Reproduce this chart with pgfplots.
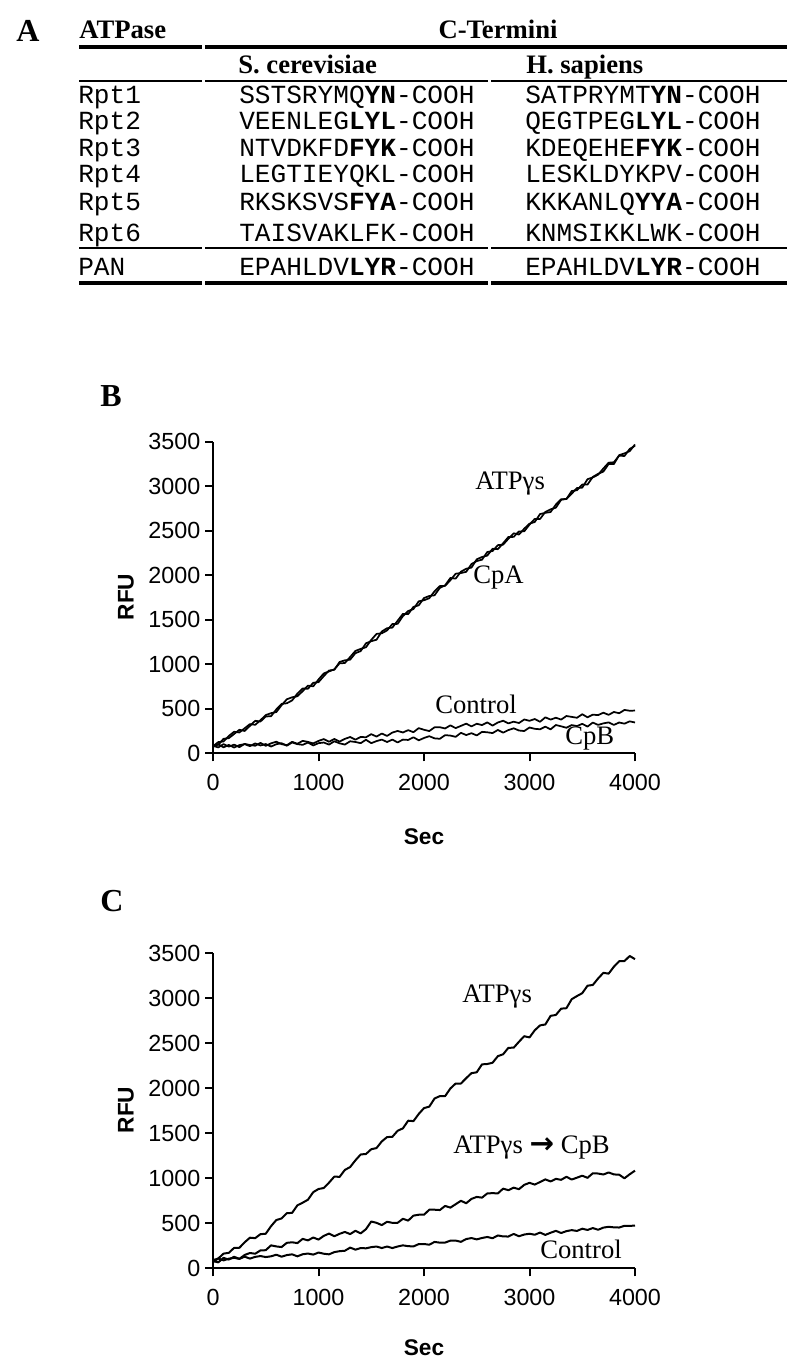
\documentclass[border=0pt]{standalone}
\usepackage{fontspec}
\setmainfont{Liberation Serif}
\setsansfont{Liberation Sans}
\setmonofont{Liberation Mono}
\newfontfamily\djv{DejaVu Sans}
\usepackage{pgfplots}
\usepackage{pgfplotstable}
\pgfplotsset{compat=1.18}

% panel B: sec, ATPgs, CpA, Control, CpB
\pgfplotstableread{
sec atp cpa ctrl cpb
0 80 90 85 75
50 127 97 67 102
100 134 164 104 68
150 196 171 76 95
200 243 218 98 66
250 235 265 70 93
300 282 252 107 104
350 329 309 94 81
400 321 366 86 112
450 373 358 118 89
500 430 415 85 105
550 452 417 113 77
600 464 494 131 103
650 541 556 104 115
700 608 563 92 86
750 630 595 130 123
800 642 672 108 104
850 699 729 141 96
900 761 726 129 122
950 753 793 112 89
1000 830 800 140 115
1050 898 868 161 122
1100 921 931 131 99
1150 944 939 162 136
1200 1012 1027 133 113
1250 1015 1045 163 99
1300 1083 1053 184 136
1350 1151 1126 154 128
1400 1174 1149 185 115
1450 1192 1237 181 153
1500 1275 1260 216 115
1550 1342 1277 189 138
1600 1349 1369 223 155
1650 1381 1406 196 128
1700 1453 1413 234 155
1750 1455 1490 252 123
1800 1542 1567 235 155
1850 1599 1564 261 151
1900 1621 1646 238 181
1950 1708 1663 284 147
2000 1720 1745 265 173
2050 1743 1768 251 193
2100 1821 1776 293 169
2150 1879 1859 294 164
2200 1882 1887 280 205
2250 1945 1970 315 200
2300 2018 1963 284 186
2350 2026 2041 309 231
2400 2039 2074 334 206
2450 2127 2087 303 227
2500 2160 2180 333 202
2550 2176 2206 318 242
2600 2262 2222 348 237
2650 2273 2298 312 228
2700 2339 2294 347 263
2750 2345 2360 367 233
2800 2411 2431 337 262
2850 2472 2432 356 282
2900 2458 2493 341 257
2950 2524 2494 381 251
3000 2580 2570 366 291
3050 2599 2634 386 276
3100 2688 2633 355 271
3150 2702 2712 405 300
3200 2711 2741 380 270
3250 2795 2760 400 319
3300 2854 2849 380 304
3350 2858 2858 420 288
3400 2917 2947 410 318
3450 2981 2956 400 307
3500 2985 3020 440 332
3550 3080 3020 405 301
3600 3100 3105 435 346
3650 3130 3140 430 320
3700 3200 3165 457 337
3750 3265 3250 433 348
3800 3270 3250 465 320
3850 3345 3350 451 347
3900 3340 3370 488 334
3950 3420 3395 479 360
4000 3455 3470 481 347
}\dataB

% panel C: sec, ATPgs, ATPgs -> CpB, Control
\pgfplotstableread{
sec atp mid ctrl
0 90 80 70
50 109 66 109
100 163 116 88
150 172 97 107
200 227 128 116
250 228 105 105
300 289 148 129
350 340 170 108
400 335 162 127
450 379 199 136
500 384 201 125
550 468 255 133
600 536 243 151
650 554 236 129
700 612 283 147
750 616 289 155
800 700 280 133
850 729 327 156
900 762 310 164
950 846 342 152
1000 881 319 175
1050 892 360 162
1100 952 386 155
1150 1019 356 180
1200 1016 383 190
1250 1093 404 195
1300 1125 380 230
1350 1200 417 207
1400 1265 388 225
1450 1270 435 222
1500 1323 520 235
1550 1336 505 242
1600 1410 480 225
1650 1458 517 242
1700 1461 505 225
1750 1528 505 242
1800 1555 550 255
1850 1640 530 246
1900 1635 585 243
1950 1715 595 269
2000 1780 595 270
2050 1796 651 262
2100 1887 651 293
2150 1913 647 285
2200 1913 693 286
2250 1998 674 307
2300 2053 712 308
2350 2053 750 294
2400 2113 723 325
2450 2168 771 336
2500 2178 793 321
2550 2266 785 337
2600 2270 832 348
2650 2284 835 334
2700 2357 832 365
2750 2378 885 354
2800 2450 868 353
2850 2451 896 382
2900 2517 879 356
2950 2579 927 375
3000 2565 950 384
3050 2645 930 373
3100 2699 959 397
3150 2709 988 371
3200 2805 965 395
3250 2815 994 416
3300 2885 983 392
3350 2890 1017 413
3400 2990 986 424
3450 3025 1007 415
3500 3057 1029 440
3550 3140 1005 426
3600 3148 1056 447
3650 3220 1053 428
3700 3283 1042 452
3750 3274 1065 461
3800 3351 1043 455
3850 3412 1040 453
3900 3414 1000 472
3950 3470 1045 471
4000 3435 1085 475
}\dataC

\newcommand\hd{\fontsize{20}{20}\selectfont\bfseries}
\newcommand\sq{\ttfamily\fontsize{19.6}{20}\selectfont}
\newcommand\lab{\fontsize{20}{20}\selectfont}
\newcommand\pan{\fontsize{24}{24}\selectfont\bfseries}
\newcommand\ax{\sffamily\bfseries\fontsize{17}{17}\selectfont}

\pgfplotsset{
  panel/.style={
    scale only axis, width=316.5pt,
    xmin=0, xmax=4000, ymin=0, ymax=3500,
    axis lines*=left,
    axis line style={line width=1.5pt},
    xtick={0,1000,...,4000}, ytick={0,500,...,3500},
    tick align=outside, major tick length=6pt,
    tick style={black, line width=1.5pt},
    tick label style={font=\sffamily\fontsize{17.5}{17.5}\selectfont},
    xticklabel style={yshift=-6pt},
    /pgf/number format/assume math mode=true,
    /pgf/number format/1000 sep={},
    clip=false,
  },
  trace/.style={black, line width=1.3pt, line join=round},
}

\begin{document}
\begin{tikzpicture}[x=0.75pt, y=0.75pt]
\useasboundingbox (0,0) rectangle (800,1369);

% ---- panel A: table ----
\node[anchor=base west, inner sep=0, font=\pan] at (16,1369-42) {A};
\node[anchor=base west, inner sep=0, font=\hd] at (79,1369-39) {ATPase};
\node[anchor=base, inner sep=0, font=\hd] at (498,1369-39) {C-Termini};
\node[anchor=base west, inner sep=0, font=\hd] at (238,1369-74) {S. cerevisiae};
\node[anchor=base west, inner sep=0, font=\hd] at (526,1369-74) {H. sapiens};

\draw[line width=3pt] (79,1369-47) -- (202,1369-47) (205,1369-47) -- (787,1369-47);
\draw[line width=1.5pt] (79,1369-81) -- (202,1369-81) (205,1369-81) -- (488,1369-81) (491,1369-81) -- (787,1369-81);
\draw[line width=1.5pt] (79,1369-248) -- (202,1369-248) (205,1369-248) -- (488,1369-248) (491,1369-248) -- (787,1369-248);
\draw[line width=3pt] (79,1369-283) -- (202,1369-283) (205,1369-283) -- (488,1369-283) (491,1369-283) -- (787,1369-283);

\begin{scope}[every node/.style={anchor=base west, inner sep=0, font=\sq}]
\node at (78,1369-104) {Rpt1};
\node at (239,1369-104) {SSTSRYMQ\textbf{YN}-COOH};
\node at (525,1369-104) {SATPRYMT\textbf{YN}-COOH};
\node at (78,1369-130) {Rpt2};
\node at (239,1369-130) {VEENLEG\textbf{LYL}-COOH};
\node at (525,1369-130) {QEGTPEG\textbf{LYL}-COOH};
\node at (78,1369-157) {Rpt3};
\node at (239,1369-157) {NTVDKFD\textbf{FYK}-COOH};
\node at (525,1369-157) {KDEQEHE\textbf{FYK}-COOH};
\node at (78,1369-183) {Rpt4};
\node at (239,1369-183) {LEGTIEYQKL-COOH};
\node at (525,1369-183) {LESKLDYKPV-COOH};
\node at (78,1369-211) {Rpt5};
\node at (239,1369-211) {RKSKSVS\textbf{FYA}-COOH};
\node at (525,1369-211) {KKKANLQ\textbf{YYA}-COOH};
\node at (78,1369-242) {Rpt6};
\node at (239,1369-242) {TAISVAKLFK-COOH};
\node at (525,1369-242) {KNMSIKKLWK-COOH};
\node at (78,1369-276) {PAN};
\node at (239,1369-276) {EPAHLDV\textbf{LYR}-COOH};
\node at (525,1369-276) {EPAHLDV\textbf{LYR}-COOH};
\end{scope}

% ---- panel B ----
\coordinate (oB) at (213,1369-753.4);
\begin{axis}[panel, at={(oB)}, anchor=south west, height=233.7pt]
\addplot[trace] table[x=sec, y=atp] {\dataB};
\addplot[trace] table[x=sec, y=cpa] {\dataB};
\addplot[trace] table[x=sec, y=ctrl] {\dataB};
\addplot[trace] table[x=sec, y=cpb] {\dataB};
\end{axis}
\node[anchor=base west, inner sep=0, font=\pan] at (100,1369-407) {B};
\node[rotate=90, font=\ax] at (126,1369-597) {RFU};
\node[font=\ax] at (424,1369-837) {Sec};
\begin{scope}[every node/.style={anchor=base west, inner sep=0, font=\lab}]
\node at (475,1369-490) {ATPγs};
\node at (473,1369-584) {CpA};
\node at (435,1369-714) {Control};
\node at (565,1369-745) {CpB};
\end{scope}

% ---- panel C ----
\coordinate (oC) at (213,1369-1268.3);
\begin{axis}[panel, at={(oC)}, anchor=south west, height=236.25pt]
\addplot[trace, line width=1.5pt] table[x=sec, y=atp] {\dataC};
\addplot[trace, line width=1.5pt] table[x=sec, y=mid] {\dataC};
\addplot[trace, line width=1.5pt] table[x=sec, y=ctrl] {\dataC};
\end{axis}
\node[anchor=base west, inner sep=0, font=\pan] at (100,1369-912) {C};
\node[rotate=90, font=\ax] at (126,1369-1110) {RFU};
\node[font=\ax] at (424,1369-1348) {Sec};
\begin{scope}[every node/.style={anchor=base west, inner sep=0, font=\lab}]
\node at (462,1369-1003) {ATPγs};
\node at (453,1369-1154) {ATPγs {\djv\bfseries\fontsize{22}{22}\selectfont →} CpB};
\node at (540,1369-1259) {Control};
\end{scope}
\end{tikzpicture}
\end{document}
